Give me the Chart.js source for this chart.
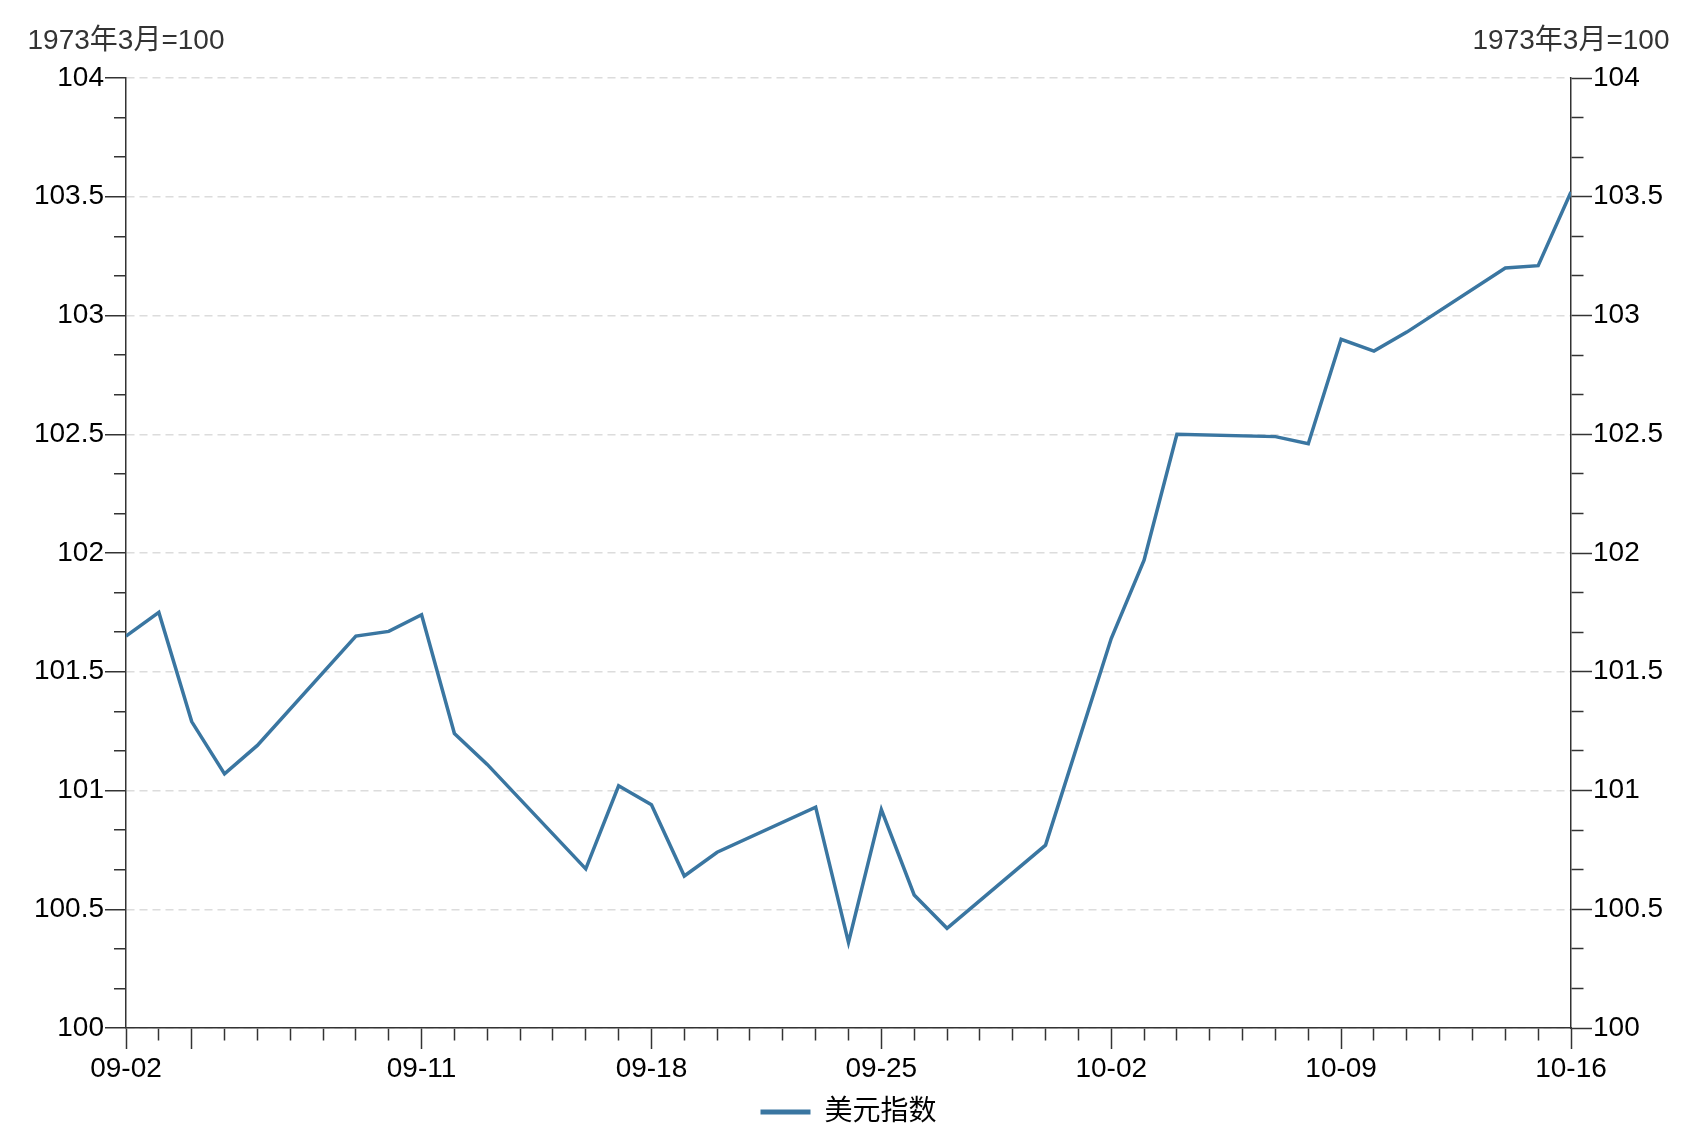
<!DOCTYPE html>
<html>
<head>
<meta charset="utf-8">
<script src="https://cdn.jsdelivr.net/npm/chart.js@4.4.1/dist/chart.umd.min.js"></script>
<style>
  html, body { margin: 0; padding: 0; background: #fff; }
  #wrap { width: 1702px; height: 1130px; }
</style>
</head>
<body>
<div id="wrap"><canvas id="grafico" width="1702" height="1130"></canvas></div>
<script>
// ===============================
// DATOS
// ===============================
const anio = 2024;
const fechas = [
  "09-02", "09-03", "09-04", "09-05", "09-06",
  "09-09", "09-10", "09-11", "09-12", "09-13",
  "09-16", "09-17", "09-18", "09-19", "09-20",
  "09-23", "09-24", "09-25", "09-26", "09-27",
  "09-30", "10-02", "10-03", "10-04",
  "10-07", "10-08", "10-09", "10-10", "10-11",
  "10-14", "10-15", "10-16"
];
const valores = [
  101.65, 101.75, 101.29, 101.07, 101.19,
  101.65, 101.67, 101.74, 101.24, 101.11,
  100.67, 101.02, 100.94, 100.64, 100.74,
  100.93, 100.36, 100.92, 100.56, 100.42,
  100.77, 101.64, 101.97, 102.50,
  102.49, 102.46, 102.90, 102.85, 102.93,
  103.20, 103.21, 103.52
];
const fechasMayores = ["09-02", "09-04", "09-11", "09-18", "09-25", "10-02", "10-09", "10-16"];
const etiquetasX = ["09-02", "09-11", "09-18", "09-25", "10-02", "10-09", "10-16"];
const etiquetasY = [100, 100.5, 101, 101.5, 102, 102.5, 103, 103.5, 104];
const subdivisiones = 3;
const serie = "美元指数";
const unidad = "1973年3月=100";

const colorLinea = "#3a76a1";
const colorEje = "#333333";
const fuente = '"Liberation Sans", "Noto Sans CJK SC", sans-serif';

function diaIndice(md) {
  const [m, d] = md.split("-").map(Number);
  const [m0, d0] = fechas[0].split("-").map(Number);
  return Math.round((Date.UTC(anio, m - 1, d) - Date.UTC(anio, m0 - 1, d0)) / 86400000);
}

const xMax = diaIndice(fechas[fechas.length - 1]);
const yMin = etiquetasY[0];
const yMax = etiquetasY[etiquetasY.length - 1];
const diasMayores = fechasMayores.map(diaIndice);
const diasEtiqueta = etiquetasX.map(diaIndice);

const esMayorX = v => diasMayores.includes(Math.round(v));
const esMayorY = v => etiquetasY.some(e => Math.abs(e - v) < 1e-6);

function ticksY(scale) {
  const n = (etiquetasY.length - 1) * subdivisiones;
  scale.ticks = Array.from({ length: n + 1 }, (_, i) => ({ value: yMin + (i * (yMax - yMin)) / n }));
}

function etiquetaY(v) {
  return esMayorY(v) ? String(Math.round(v * 2) / 2) : "";
}

// ===============================
// TITULOS DE EJES
// ===============================
const tituloEjes = {
  id: "tituloEjes",
  afterDraw(chart) {
    const { ctx, chartArea, scales } = chart;
    ctx.save();
    ctx.font = "28px " + fuente;
    ctx.fillStyle = "#333";
    ctx.textAlign = "center";
    ctx.textBaseline = "alphabetic";
    ctx.fillText(unidad, scales.y.right, chartArea.top - 29);
    ctx.fillText(unidad, scales.y2.left, chartArea.top - 29);
    ctx.restore();
  }
};

// ===============================
// GRAFICO
// ===============================
new Chart(document.getElementById("grafico"), {
  type: "line",
  data: {
    datasets: [{
      label: serie,
      data: fechas.map((f, i) => ({ x: diaIndice(f), y: valores[i] })),
      borderColor: colorLinea,
      backgroundColor: colorLinea,
      borderWidth: 3.5,
      pointRadius: 0,
      tension: 0,
      fill: false,
      yAxisID: "y"
    }]
  },
  options: {
    responsive: false,
    animation: false,
    layout: { padding: { top: 78, left: 0, right: 0, bottom: -6 } },
    plugins: {
      tooltip: { enabled: false },
      legend: {
        position: "bottom",
        fullSize: false,
        labels: {
          boxWidth: 50,
          boxHeight: 5,
          padding: 6,
          color: "#000",
          font: { family: fuente, size: 28 },
          generateLabels(chart) {
            const items = Chart.defaults.plugins.legend.labels.generateLabels(chart);
            items.forEach(it => { it.lineWidth = 0; it.fillStyle = colorLinea; });
            return items;
          }
        }
      }
    },
    scales: {
      x: {
        type: "linear",
        min: 0,
        max: xMax,
        afterBuildTicks: s => { s.ticks = Array.from({ length: xMax + 1 }, (_, i) => ({ value: i })); },
        afterFit: s => { s.height = 64; },
        ticks: {
          autoSkip: false,
          maxRotation: 0,
          padding: 3,
          color: "#000",
          font: { family: fuente, size: 28 },
          callback: v => {
            const k = diasEtiqueta.indexOf(Math.round(v));
            return k >= 0 ? etiquetasX[k] : "";
          }
        },
        grid: {
          drawOnChartArea: false,
          color: "rgba(0,0,0,0)",
          tickLength: 21,
          tickColor: colorEje,
          tickWidth: 1.5,
          tickBorderDash: c => (c.tick && esMayorX(c.tick.value)) ? [] : [12, 100]
        },
        border: { display: true, color: colorEje, width: 1.5 }
      },
      y: {
        position: "left",
        min: yMin,
        max: yMax,
        afterBuildTicks: ticksY,
        afterFit: s => { s.width = 126; },
        ticks: {
          autoSkip: false,
          padding: 1,
          color: "#000",
          font: { family: fuente, size: 28 },
          callback: etiquetaY
        },
        grid: {
          drawOnChartArea: true,
          color: c => (c.tick && esMayorY(c.tick.value)) ? "#dcdcdc" : "rgba(0,0,0,0)",
          lineWidth: 1.5,
          tickLength: 21,
          tickColor: colorEje,
          tickWidth: 1.5,
          tickBorderDash: c => (c.tick && esMayorY(c.tick.value)) ? [] : [0, 9, 12, 100]
        },
        border: { display: true, color: colorEje, width: 1.5, dash: [8, 5] }
      },
      y2: {
        position: "right",
        min: yMin,
        max: yMax,
        afterBuildTicks: ticksY,
        afterFit: s => { s.width = 131; },
        ticks: {
          autoSkip: false,
          padding: 1,
          color: "#000",
          font: { family: fuente, size: 28 },
          callback: etiquetaY
        },
        grid: {
          drawOnChartArea: false,
          color: "rgba(0,0,0,0)",
          tickLength: 21,
          tickColor: colorEje,
          tickWidth: 1.5,
          tickBorderDash: c => (c.tick && esMayorY(c.tick.value)) ? [] : [12, 100]
        },
        border: { display: true, color: colorEje, width: 1.5 }
      }
    }
  },
  plugins: [tituloEjes]
});
</script>
</body>
</html>
